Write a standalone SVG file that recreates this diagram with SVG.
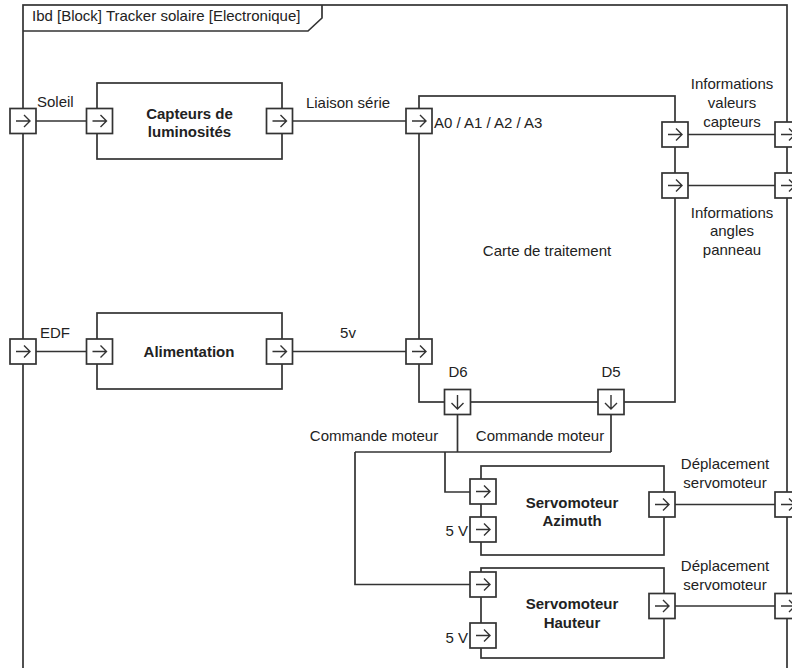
<svg xmlns="http://www.w3.org/2000/svg" xmlns:xlink="http://www.w3.org/1999/xlink" width="792" height="668" viewBox="0 0 792 668">
<style>
  .ln{fill:none;stroke:#333;stroke-width:1.7}
  .blk{fill:#fff;stroke:#333;stroke-width:1.7}
  .t{font-family:"Liberation Sans",Arial,sans-serif;font-size:15px;fill:#222}
  .b{font-weight:bold}
  .m{text-anchor:middle}
  .e{text-anchor:end}
</style>
<defs>
  <g id="pr">
    <rect x="-13" y="-12.5" width="26" height="25" fill="#fff" stroke="#333" stroke-width="1.7"/>
    <path d="M-7,0 H7 M1,-6 L7,0 L1,6" fill="none" stroke="#333" stroke-width="1.4"/>
  </g>
  <g id="pd">
    <rect x="-13" y="-12.5" width="26" height="25" fill="#fff" stroke="#333" stroke-width="1.7"/>
    <path d="M0,-7 V7 M-6,1 L0,7 L6,1" fill="none" stroke="#333" stroke-width="1.4"/>
  </g>
</defs>

<g id="frame">
  <rect x="23" y="5" width="764" height="700" fill="none" stroke="#333" stroke-width="1.7"/>
  <path class="ln" d="M23,31 H308 L322,18 V5"/>
  <text class="t" x="32" y="20.5">Ibd [Block] Tracker solaire [Electronique]</text>
</g>

<g id="connectors">
  <path class="ln" d="M36,121 H87"/>
  <path class="ln" d="M292,121 H406"/>
  <path class="ln" d="M36,351.5 H87"/>
  <path class="ln" d="M292,351.5 H406"/>
  <path class="ln" d="M688,134.5 H775"/>
  <path class="ln" d="M688,185.5 H775"/>
  <path class="ln" d="M457.5,415 V452"/>
  <path class="ln" d="M611,415 V452"/>
  <path class="ln" d="M355,452 H611"/>
  <path class="ln" d="M445,452 V492 H470"/>
  <path class="ln" d="M355,452 V584.5 H470"/>
  <path class="ln" d="M675,504.5 H775"/>
  <path class="ln" d="M675,606 H775"/>
  <text class="t" x="37" y="107">Soleil</text>
  <text class="t m" x="348" y="108">Liaison série</text>
  <text class="t" x="40" y="338">EDF</text>
  <text class="t m" x="348" y="338">5v</text>
  <text class="t m" x="732" y="89">Informations</text>
  <text class="t m" x="732" y="108">valeurs</text>
  <text class="t m" x="732" y="126.5">capteurs</text>
  <text class="t m" x="732" y="217.5">Informations</text>
  <text class="t m" x="732" y="236">angles</text>
  <text class="t m" x="732" y="254.5">panneau</text>
  <text class="t m" x="374" y="440.5">Commande moteur</text>
  <text class="t m" x="540" y="440.5">Commande moteur</text>
  <text class="t m" x="725" y="468.5">Déplacement</text>
  <text class="t m" x="725" y="487.5">servomoteur</text>
  <text class="t m" x="725" y="570.5">Déplacement</text>
  <text class="t m" x="725" y="589.5">servomoteur</text>
</g>

<g id="frame-ports">
  <use xlink:href="#pr" href="#pr" x="23" y="121"/>
  <use xlink:href="#pr" href="#pr" x="23" y="351.5"/>
  <use xlink:href="#pr" href="#pr" x="788" y="134.5"/>
  <use xlink:href="#pr" href="#pr" x="788" y="185.5"/>
  <use xlink:href="#pr" href="#pr" x="788" y="504.5"/>
  <use xlink:href="#pr" href="#pr" x="788" y="606"/>
</g>

<g id="capteurs">
  <rect class="blk" x="97" y="83" width="185" height="76"/>
  <use xlink:href="#pr" href="#pr" x="99.5" y="121"/>
  <use xlink:href="#pr" href="#pr" x="279.5" y="121"/>
  <text class="t b m" x="189.5" y="118.5">Capteurs de</text>
  <text class="t b m" x="189.5" y="136.5">luminosités</text>
</g>

<g id="alimentation">
  <rect class="blk" x="97" y="313" width="185" height="76"/>
  <use xlink:href="#pr" href="#pr" x="99.5" y="351.5"/>
  <use xlink:href="#pr" href="#pr" x="279.5" y="351.5"/>
  <text class="t b m" x="189" y="356.5">Alimentation</text>
</g>

<g id="carte">
  <rect class="blk" x="419" y="96" width="256" height="306"/>
  <use xlink:href="#pr" href="#pr" x="419" y="121"/>
  <use xlink:href="#pr" href="#pr" x="419" y="351.5"/>
  <use xlink:href="#pr" href="#pr" x="675" y="134.5"/>
  <use xlink:href="#pr" href="#pr" x="675" y="185.5"/>
  <use xlink:href="#pd" href="#pd" x="457.5" y="402"/>
  <use xlink:href="#pd" href="#pd" x="611" y="402"/>
  <text class="t" x="434" y="127.5">A0 / A1 / A2 / A3</text>
  <text class="t m" x="547" y="255.5">Carte de traitement</text>
  <text class="t m" x="458" y="376.5">D6</text>
  <text class="t m" x="611" y="376.5">D5</text>
</g>

<g id="azimuth">
  <rect class="blk" x="481" y="466" width="183" height="89"/>
  <use xlink:href="#pr" href="#pr" x="483" y="491.5"/>
  <use xlink:href="#pr" href="#pr" x="483" y="529.5"/>
  <use xlink:href="#pr" href="#pr" x="662" y="504.5"/>
  <text class="t b m" x="572" y="507.5">Servomoteur</text>
  <text class="t b m" x="572" y="525.5">Azimuth</text>
  <text class="t e" x="468" y="535.5">5 V</text>
</g>

<g id="hauteur">
  <rect class="blk" x="481" y="568" width="183" height="90"/>
  <use xlink:href="#pr" href="#pr" x="483" y="584.5"/>
  <use xlink:href="#pr" href="#pr" x="483" y="635.5"/>
  <use xlink:href="#pr" href="#pr" x="662" y="606"/>
  <text class="t b m" x="572" y="608.5">Servomoteur</text>
  <text class="t b m" x="572" y="627.5">Hauteur</text>
  <text class="t e" x="468" y="642.5">5 V</text>
</g>
</svg>
